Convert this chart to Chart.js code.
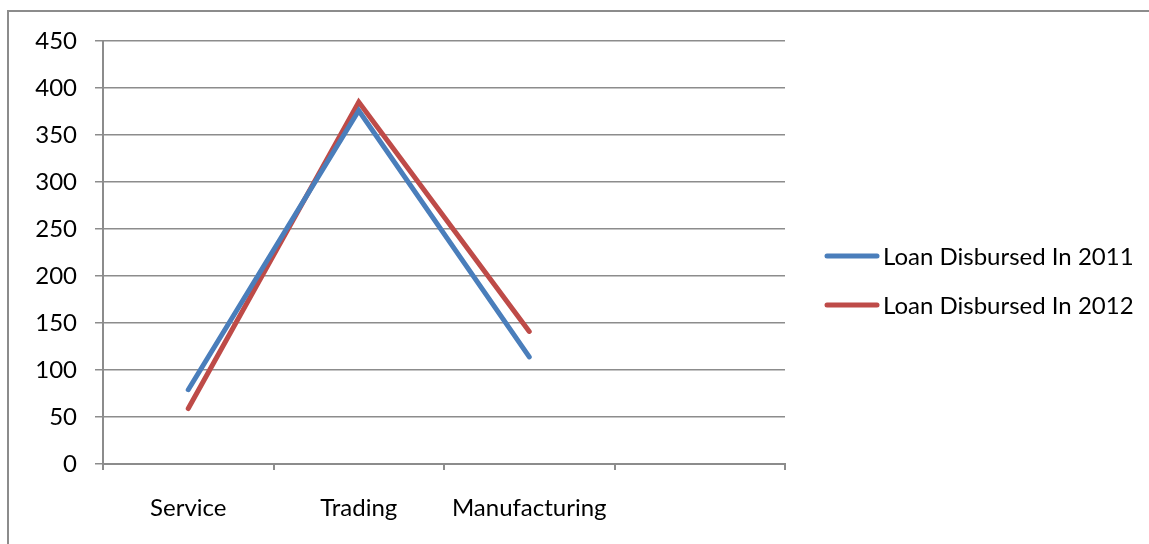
<!DOCTYPE html>
<html>
<head>
<meta charset="utf-8">
<script src="https://cdn.jsdelivr.net/npm/chart.js@4/dist/chart.umd.min.js"></script>
<style>
  html, body { margin: 0; padding: 0; background: #fff; }
  #wrap { width: 1149px; height: 544px; position: relative; }
</style>
</head>
<body>
<div id="wrap"><canvas id="chart" width="1149" height="544"></canvas></div>
<script>
// Loan disbursement by sector
const categories = ['Service', 'Trading', 'Manufacturing', ''];
const loans2011 = [79, 376, 114, null];
const loans2012 = [59, 385, 141, null];
const seriesNames = ['Loan Disbursed In 2011', 'Loan Disbursed In 2012'];
const seriesColors = ['#4a7ebb', '#be4b48'];
const yTicks = { min: 0, max: 450, step: 50 };

const FONT_FAMILY = 'Lato';
const FONT_SIZE = 24;
const GRID = '#8c8c8c';

// Thin gray frame along the top and left edges of the canvas
const framePlugin = {
  id: 'frame',
  beforeDraw(chart) {
    const ctx = chart.ctx;
    ctx.save();
    ctx.strokeStyle = GRID;
    ctx.lineWidth = 2;
    ctx.beginPath();
    ctx.moveTo(8, chart.height);
    ctx.lineTo(8, 11);
    ctx.lineTo(chart.width, 11);
    ctx.stroke();
    ctx.restore();
  }
};

// Legend on the right: a thick line sample followed by the series name
const sideLegend = {
  id: 'sideLegend',
  afterDraw(chart) {
    const ctx = chart.ctx;
    const area = chart.chartArea;
    const x0 = area.right + 40;
    const rowGap = 49;
    const midY = (area.top + area.bottom) / 2 + 28;
    const n = chart.data.datasets.length;
    ctx.save();
    ctx.font = FONT_SIZE + 'px ' + FONT_FAMILY;
    ctx.textBaseline = 'middle';
    ctx.textAlign = 'left';
    chart.data.datasets.forEach((ds, i) => {
      const y = midY + (i - (n - 1) / 2) * rowGap;
      ctx.strokeStyle = ds.borderColor;
      ctx.lineWidth = 5;
      ctx.lineCap = 'round';
      ctx.beginPath();
      ctx.moveTo(x0 + 2, y);
      ctx.lineTo(x0 + 52, y);
      ctx.stroke();
      ctx.fillStyle = '#000';
      ctx.fillText(ds.label, x0 + 58, y + 1);
    });
    ctx.restore();
  }
};

function draw() {
  new Chart(document.getElementById('chart'), {
    type: 'line',
    data: {
      labels: categories,
      datasets: seriesNames.map((name, i) => ({
        label: name,
        data: i === 0 ? loans2011 : loans2012,
        borderColor: seriesColors[i],
        backgroundColor: seriesColors[i],
        borderWidth: 5,
        borderCapStyle: 'round',
        borderJoinStyle: 'miter',
        pointRadius: 0,
        tension: 0
      }))
    },
    options: {
      responsive: false,
      animation: false,
      layout: { padding: { top: 41, left: 20, right: 364, bottom: 0 } },
      plugins: {
        tooltip: { enabled: false },
        legend: { display: false }
      },
      scales: {
        x: {
          offset: true,
          grid: {
            offset: true,
            drawOnChartArea: false,
            drawTicks: true,
            tickLength: 6,
            color: GRID,
            lineWidth: 2
          },
          border: { color: GRID, width: 2 },
          ticks: {
            color: '#000',
            padding: 24,
            maxRotation: 0,
            autoSkip: false,
            font: { family: FONT_FAMILY, size: FONT_SIZE }
          },
          afterFit(scale) { scale.height = 80; }
        },
        y: {
          min: yTicks.min,
          max: yTicks.max,
          ticks: {
            stepSize: yTicks.step,
            color: '#000',
            padding: 18,
            font: { family: FONT_FAMILY, size: FONT_SIZE }
          },
          grid: {
            color: GRID,
            lineWidth: 1.5,
            drawTicks: true,
            tickLength: 8
          },
          border: { color: GRID, width: 2 },
          afterFit(scale) { scale.width = 83; }
        }
      }
    },
    plugins: [framePlugin, sideLegend]
  });
}

document.fonts.load(FONT_SIZE + 'px ' + FONT_FAMILY).then(draw, draw);
</script>
</body>
</html>
